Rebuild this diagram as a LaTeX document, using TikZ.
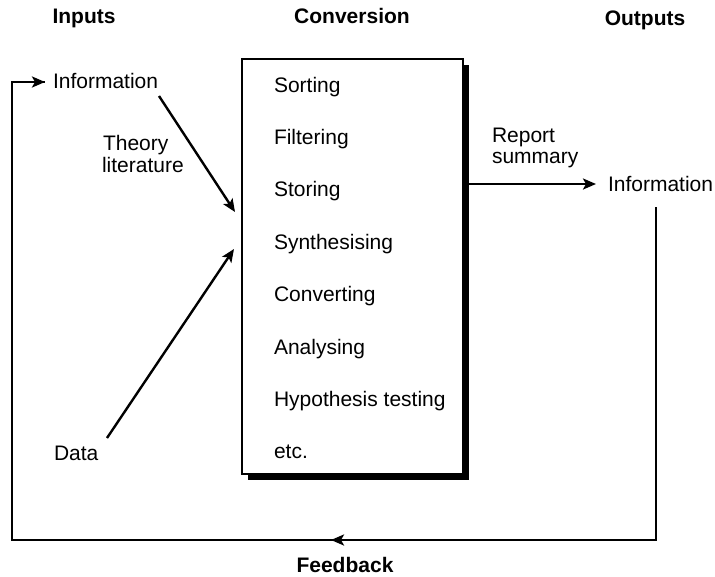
\documentclass[tikz,border=0pt]{standalone}
\usepackage{fontspec}
\setmainfont{Liberation Sans}
\usetikzlibrary{arrows.meta,calc,decorations.markings}
\begin{document}
\begin{tikzpicture}[x=1pt,y=-1pt,
  every node/.style={inner sep=0pt,outer sep=0pt,font=\fontsize{21}{22}\selectfont},
  head/.style={font=\fontsize{21}{22}\selectfont\bfseries},
  item/.style={anchor=base west},
  conn/.style={line width=2.4pt,-{Stealth[length=13pt,width=11pt,inset=3pt]}},
  fbline/.style={line width=2.4pt},
  procbox/.style={draw,line width=1.5pt,fill=white,minimum width=221pt,minimum height=415pt}]
\useasboundingbox (0,0) rectangle (715,576);
% headings
\node[head,anchor=base] (hin) at (84,23) {Inputs};
\node[head,anchor=base] (hconv) at (352,23) {Conversion};
\node[head,anchor=base] (hout) at (645,25) {Outputs};
\node[head,anchor=base] (hfb) at (345,572) {Feedback};
% box with shadow
\coordinate (bc) at (352.5,266.5);
\fill[black] ($(bc)+(-110.5,-207.5)+(5.5,5.5)$) rectangle ($(bc)+(110.5,207.5)+(5.5,5.5)$);
\node[procbox] (box) at (bc) {};
% items
\node[item] (i1) at (274,92) {Sorting};
\node[item] (i2) at (274,144.4) {Filtering};
\node[item] (i3) at (274,196.8) {Storing};
\node[item] (i4) at (274,249.2) {Synthesising};
\node[item] (i5) at (274,301.6) {Converting};
\node[item] (i6) at (274,354) {Analysing};
\node[item] (i7) at (274,406.4) {Hypothesis testing};
\node[item] (i8) at (274,458.8) {etc.};
% inputs
\node[item] (info) at (53,88) {Information};
\node[item] (theory) at (103,150) {Theory};
\node[item] (lit) at (102,172) {literature};
\node[item] (data) at (54,460) {Data};
% outputs
\node[item] (report) at (492,142) {Report};
\node[item] (summ) at (492,163) {summary};
\node[item] (oinfo) at (608,191) {Information};
% connector points
\coordinate (thS) at (159,96);
\coordinate (thE) at (235,212);
\coordinate (daS) at (107,438);
\coordinate (daE) at (234,249);
\coordinate (rpS) at (463,184);
\coordinate (rpE) at (596,184);
\coordinate (fbA) at (656,207);
\coordinate (fbB) at (656,540);
\coordinate (fbC) at (12,540);
\coordinate (fbD) at (12,82);
\coordinate (fbE) at (45,82);
\draw[conn] (thS) -- (thE);
\draw[conn] (daS) -- (daE);
\draw[conn] (rpS) -- (rpE);
\draw[fbline,line join=miter] (fbA) -- (fbB) -- (fbC) -- (fbD) -- (fbE);
\draw[conn] (fbD) -- (fbE);
\draw[conn] (fbB) -- (331,540);
\end{tikzpicture}
\end{document}
